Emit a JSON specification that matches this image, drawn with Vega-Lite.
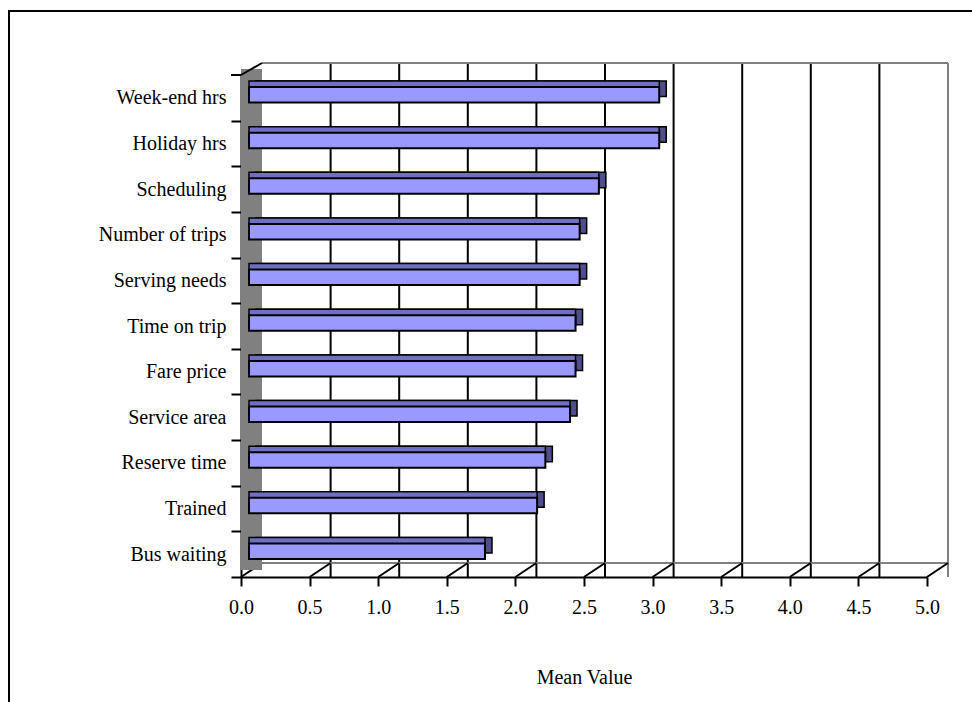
{
  "$schema": "https://vega.github.io/schema/vega-lite/v6.json",
  "width": 686,
  "height": 502,
  "autosize": {"type": "none"},
  "padding": {"left": 241, "top": 75, "right": 45, "bottom": 125},
  "background": "white",
  "config": {
    "view": {"stroke": null},
    "font": "Liberation Serif",
    "axisX": {
      "grid": false, "domainColor": "black", "domainWidth": 2,
      "tickColor": "black", "tickWidth": 2, "tickSize": 9, "tickCount": 10,
      "labelFont": "Liberation Serif", "labelFontSize": 20, "labelColor": "black",
      "labelPadding": 11, "labelFlush": false,
      "titleFont": "Liberation Serif", "titleFontSize": 20,
      "titleFontWeight": "normal", "titleColor": "black", "titlePadding": 50,
      "format": ".1f"
    }
  },
  "datasets": {
    "bars": [
      {"item": "Week-end hrs", "mean": 2.99},
      {"item": "Holiday hrs", "mean": 2.99},
      {"item": "Scheduling", "mean": 2.55},
      {"item": "Number of trips", "mean": 2.41},
      {"item": "Serving needs", "mean": 2.41},
      {"item": "Time on trip", "mean": 2.38},
      {"item": "Fare price", "mean": 2.38},
      {"item": "Service area", "mean": 2.34},
      {"item": "Reserve time", "mean": 2.16},
      {"item": "Trained", "mean": 2.10},
      {"item": "Bus waiting", "mean": 1.72}
    ],
    "grid": [
      {"v": 0.5}, {"v": 1.0}, {"v": 1.5}, {"v": 2.0}, {"v": 2.5},
      {"v": 3.0}, {"v": 3.5}, {"v": 4.0}, {"v": 4.5}
    ],
    "ticks": [
      {"v": 0.0}, {"v": 0.5}, {"v": 1.0}, {"v": 1.5}, {"v": 2.0}, {"v": 2.5},
      {"v": 3.0}, {"v": 3.5}, {"v": 4.0}, {"v": 4.5}, {"v": 5.0}
    ]
  },
  "layer": [
    {
      "layer": [
        {
          "data": {"values": [{}]},
          "mark": {"type": "rule", "color": "black", "strokeWidth": 2, "xOffset": -232, "x2Offset": 300, "yOffset": -64, "y2Offset": -64},
          "encoding": {
            "x": {"datum": 0, "type": "quantitative", "scale": {"domain": [0, 5], "nice": false}, "title": "Mean Value"},
            "x2": {"datum": 5},
            "y": {"datum": 1, "type": "quantitative", "scale": {"domain": [0, 1]}, "axis": null},
            "y2": {"datum": 1}
          }
        },
        {
          "data": {"values": [{}]},
          "mark": {"type": "rule", "color": "black", "strokeWidth": 2, "xOffset": -232, "x2Offset": -232, "yOffset": -65, "y2Offset": 400},
          "encoding": {
            "x": {"datum": 0, "type": "quantitative", "scale": {"domain": [0, 5], "nice": false}, "title": "Mean Value"},
            "x2": {"datum": 0},
            "y": {"datum": 1, "type": "quantitative", "scale": {"domain": [0, 1]}, "axis": null},
            "y2": {"datum": 0}
          }
        },
        {
          "data": {"name": "grid"},
          "mark": {"type": "rule", "color": "black", "strokeWidth": 2, "xOffset": 21, "yOffset": -12, "y2Offset": -14},
          "encoding": {
            "x": {"field": "v", "type": "quantitative", "scale": {"domain": [0, 5], "nice": false}, "title": "Mean Value"}
          }
        },
        {
          "data": {"values": [{}]},
          "mark": {"type": "rule", "color": "#808080", "strokeWidth": 2, "xOffset": 21, "yOffset": -12, "y2Offset": -14},
          "encoding": {
            "x": {"datum": 5, "type": "quantitative", "scale": {"domain": [0, 5], "nice": false}, "title": "Mean Value"}
          }
        },
        {
          "data": {"values": [{}]},
          "mark": {"type": "rule", "color": "#808080", "strokeWidth": 2, "xOffset": 21, "x2Offset": 21, "yOffset": -12, "y2Offset": -12},
          "encoding": {
            "x": {"datum": 0, "type": "quantitative", "scale": {"domain": [0, 5], "nice": false}, "title": "Mean Value"},
            "x2": {"datum": 5},
            "y": {"datum": 1, "type": "quantitative", "scale": {"domain": [0, 1]}, "axis": null},
            "y2": {"datum": 1}
          }
        },
        {
          "data": {"values": [{}]},
          "mark": {"type": "rule", "color": "#808080", "strokeWidth": 2, "xOffset": 21, "x2Offset": 21, "yOffset": -14, "y2Offset": -14},
          "encoding": {
            "x": {"datum": 0, "type": "quantitative", "scale": {"domain": [0, 5], "nice": false}, "title": "Mean Value"},
            "x2": {"datum": 5},
            "y": {"datum": 0, "type": "quantitative", "scale": {"domain": [0, 1]}, "axis": null},
            "y2": {"datum": 0}
          }
        },
        {
          "data": {"name": "ticks"},
          "mark": {"type": "rule", "color": "black", "strokeWidth": 2, "x2Offset": 21, "y2Offset": -14},
          "encoding": {
            "x": {"field": "v", "type": "quantitative", "scale": {"domain": [0, 5], "nice": false}, "title": "Mean Value"},
            "x2": {"field": "v"},
            "y": {"datum": 0, "type": "quantitative", "scale": {"domain": [0, 1]}, "axis": null},
            "y2": {"datum": 0}
          }
        },
        {
          "data": {"values": [{}]},
          "mark": {"type": "rect", "fill": "#808080", "stroke": null, "x2Offset": 21, "yOffset": -6, "y2Offset": -7},
          "encoding": {
            "x": {"datum": 0, "type": "quantitative", "scale": {"domain": [0, 5], "nice": false}, "title": "Mean Value"},
            "x2": {"datum": 0},
            "y": {"datum": 1, "type": "quantitative", "scale": {"domain": [0, 1]}, "axis": null},
            "y2": {"datum": 0}
          }
        },
        {
          "data": {"values": [{}]},
          "mark": {"type": "rule", "color": "black", "strokeWidth": 2, "x2Offset": 21, "y2Offset": -12},
          "encoding": {
            "x": {"datum": 0, "type": "quantitative", "scale": {"domain": [0, 5], "nice": false}, "title": "Mean Value"},
            "x2": {"datum": 0},
            "y": {"datum": 1, "type": "quantitative", "scale": {"domain": [0, 1]}, "axis": null},
            "y2": {"datum": 1}
          }
        },
        {
          "data": {"values": [{}]},
          "mark": {"type": "rule", "color": "black", "strokeWidth": 2, "xOffset": -10},
          "encoding": {
            "x": {"datum": 0, "type": "quantitative", "scale": {"domain": [0, 5], "nice": false}, "title": "Mean Value"},
            "x2": {"datum": 0},
            "y": {"datum": 1, "type": "quantitative", "scale": {"domain": [0, 1]}, "axis": null},
            "y2": {"datum": 1}
          }
        }
      ]
    },
    {
      "data": {"name": "bars"},
      "encoding": {
        "y": {
          "field": "item", "type": "nominal", "sort": null,
          "scale": {"paddingInner": 0.66, "paddingOuter": 0.33},
          "axis": {
            "title": null, "domainColor": "black", "domainWidth": 2,
            "tickColor": "black", "tickWidth": 2, "tickSize": 10, "tickOffset": 22.8,
            "labelOffset": -22.8,
            "labelFont": "Liberation Serif", "labelFontSize": 20, "labelColor": "black",
            "labelPadding": 5, "labelLimit": 300
          }
        },
        "x": {
          "field": "mean", "type": "quantitative",
          "scale": {"domain": [0, 5], "nice": false},
          "title": "Mean Value"
        }
      },
      "layer": [
        {"mark": {"type": "bar", "fill": "#4E4E8C", "stroke": "black", "strokeWidth": 1.5, "xOffset": 15, "x2Offset": 15, "yOffset": -9, "y2Offset": -9}},
        {"mark": {"type": "bar", "fill": "#7070C2", "stroke": "black", "strokeWidth": 1.5, "xOffset": 8, "x2Offset": 8, "yOffset": -9, "y2Offset": -9}},
        {"mark": {"type": "bar", "fill": "#9999FF", "stroke": "black", "strokeWidth": 2, "xOffset": 8, "x2Offset": 8, "yOffset": -3, "y2Offset": -3}}
      ]
    }
  ],
  "resolve": {"scale": {"y": "independent"}, "axis": {"y": "independent"}}
}
